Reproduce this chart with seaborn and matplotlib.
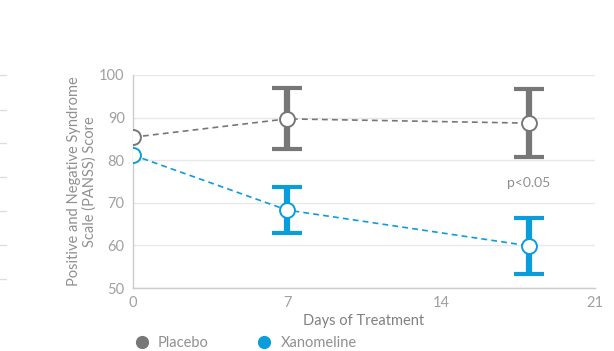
import matplotlib
matplotlib.use("Agg")
import matplotlib.pyplot as plt
from matplotlib.lines import Line2D
import seaborn as sns
import pandas as pd

days = [0, 7, 18]
placebo_score = [85.4, 89.7, 88.7]
placebo_low = [None, 82.7, 80.8]
placebo_high = [None, 97.0, 96.7]
xanomeline_score = [81.2, 68.3, 59.9]
xanomeline_low = [None, 62.9, 53.3]
xanomeline_high = [None, 73.7, 66.4]
groups = ["Placebo", "Xanomeline"]
colors = {"Placebo": "#777777", "Xanomeline": "#0b9ddb"}
x_ticks = [0, 7, 14, 21]
y_ticks = [50, 60, 70, 80, 90, 100]

rows = []
for g, sc, lo, hi in [("Placebo", placebo_score, placebo_low, placebo_high),
                      ("Xanomeline", xanomeline_score, xanomeline_low, xanomeline_high)]:
    for d, s, l, h in zip(days, sc, lo, hi):
        rows.append({"day": d, "score": s, "low": l, "high": h, "group": g})
df = pd.DataFrame(rows)

sns.set_theme(style="white")
plt.rcParams["font.family"] = ["Lato", "DejaVu Sans"]

W, H = 614, 351
fig = plt.figure(figsize=(W / 100, H / 100), dpi=100)
ax = fig.add_axes([133 / W, 1 - 288 / H, (595 - 133) / W, (288 - 75) / H])

# error bars for the follow-up visits
for g in groups:
    sub = df[(df["group"] == g) & df["low"].notna()]
    ax.errorbar(sub["day"], sub["score"],
                yerr=[sub["score"] - sub["low"], sub["high"] - sub["score"]],
                fmt="none", ecolor=colors[g], elinewidth=4.5, capsize=11,
                capthick=3, zorder=3)

# dashed trend lines
sns.lineplot(data=df, x="day", y="score", hue="group", palette=colors,
             linestyle=(0, (3.5, 2.5)), linewidth=1.2, legend=False,
             ax=ax, zorder=2)
# hollow markers at each visit
for g in groups:
    sub = df[df["group"] == g]
    ax.scatter(sub["day"], sub["score"], s=115, facecolor="white",
               edgecolor=colors[g], linewidth=1.4, zorder=5)

ax.text(18, 74.6, "p<0.05", ha="center", va="center", fontsize=10,
        color="#8f8f8f")

ax.set_xlim(0, 21)
ax.set_ylim(50, 100)
ax.set_xticks(x_ticks)
ax.set_yticks(y_ticks)
ax.tick_params(axis="both", labelsize=10.5, colors="#a0a0a0", length=0, pad=6)
ax.grid(axis="y", color="#e8e8e8", linewidth=1)
ax.set_axisbelow(True)
for side in ["top", "right"]:
    ax.spines[side].set_visible(False)
for side in ["left", "bottom"]:
    ax.spines[side].set_color("#cccccc")
    ax.spines[side].set_linewidth(1)
ax.set_xlabel("Days of Treatment", fontsize=10.5, color="#808080", labelpad=3)
ax.set_ylabel("Positive and Negative Syndrome\nScale (PANSS) Score",
              fontsize=10.5, color="#909090", labelpad=2, linespacing=1.05)

# faint gridline stubs along the left edge
for yp in [75, 110, 143, 177, 211, 245, 279]:
    fig.add_artist(Line2D([0, 6 / W], [1 - yp / H] * 2, color="#dddddd",
                          linewidth=1, transform=fig.transFigure))

handles = [Line2D([], [], marker="o", linestyle="none", markersize=8.5,
                  markerfacecolor=colors[g], markeredgecolor=colors[g],
                  label=g) for g in groups]
fig.legend(handles=handles, loc="center left",
           bbox_to_anchor=(126 / W, 1 - 343 / H), ncol=2, frameon=False,
           fontsize=10.5, labelcolor="#909090", columnspacing=3.2,
           handletextpad=0.5, borderpad=0, handlelength=1.2)

fig.savefig("out.png", dpi=100)
